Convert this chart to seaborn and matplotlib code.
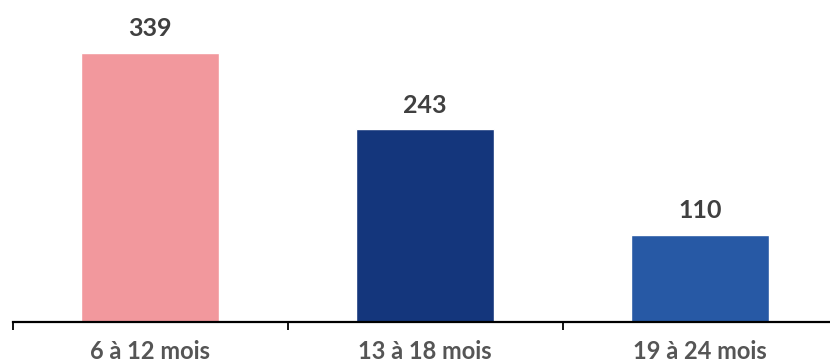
import matplotlib
matplotlib.use("Agg")
import matplotlib.pyplot as plt
import seaborn as sns
import pandas as pd

categories = ["6 à 12 mois", "13 à 18 mois", "19 à 24 mois"]
values = [339, 243, 110]
colors = ["#F2989D", "#14367C", "#2759A5"]

sns.set_style("white")
plt.rcParams["font.family"] = ["Lato", "DejaVu Sans"]

df = pd.DataFrame({"cat": categories, "val": values})

fig = plt.figure(figsize=(8.3, 3.63), dpi=100)
ax = fig.add_axes([12.5 / 830, 41 / 363, 825 / 830, 322 / 363])
sns.barplot(data=df, x="cat", y="val", hue="cat", palette=colors,
            width=0.5, legend=False, ax=ax, saturation=1)

ax.set_xlim(-0.5, 2.5)
ax.set_ylim(0, 405.8)
ax.set_xlabel("")
ax.set_ylabel("")
ax.set_yticks([])
# group boundaries as major ticks, category names on minor ticks
ax.set_xticks([-0.5, 0.5, 1.5], minor=False)
ax.set_xticklabels([])
ax.set_xticks([0, 1, 2], minor=True)
ax.set_xticklabels(categories, minor=True, fontsize=17, fontweight="bold", color="#555555")
ax.tick_params(axis="x", which="major", length=6, width=1.3, direction="out", color="black", bottom=True)
ax.tick_params(axis="x", which="minor", length=0, pad=13)

for s in ["top", "left", "right"]:
    ax.spines[s].set_visible(False)
ax.spines["bottom"].set_color("black")
ax.spines["bottom"].set_linewidth(1.6)

for i, v in enumerate(values):
    ax.annotate(str(v), (i, v), xytext=(0, 12), textcoords="offset points",
                ha="center", va="baseline", fontsize=18, fontweight="bold",
                color="#404040")

fig.savefig("out.png", dpi=100)
